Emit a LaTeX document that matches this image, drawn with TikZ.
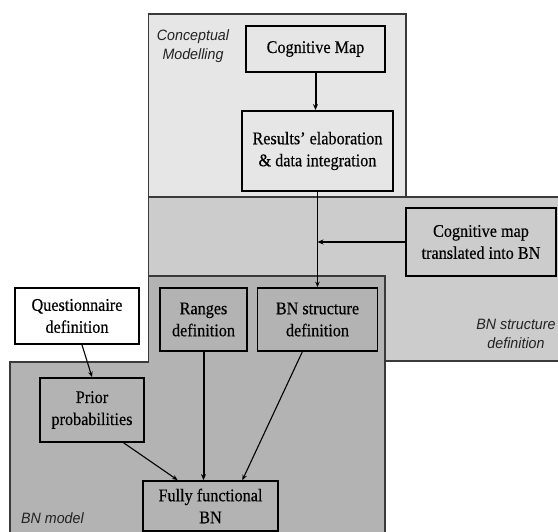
\documentclass[tikz,border=0pt]{standalone}
\usepackage{fontspec}
\setmainfont{Liberation Serif}[FakeStretch=0.91,FakeBold=0.4]
\newfontfamily\labfont{Liberation Sans}[FakeStretch=0.95]
\usetikzlibrary{arrows.meta,calc}
\definecolor{cmfill}{HTML}{E6E6E6}
\definecolor{bsfill}{HTML}{CCCCCC}
\definecolor{bmfill}{HTML}{B3B3B3}
\definecolor{panelline}{HTML}{3A3A3A}
\definecolor{labtext}{HTML}{222222}
\begin{document}
\begin{tikzpicture}[x=1pt,y=-1pt,
  box/.style={draw=black, line width=1.8pt, align=center, inner sep=0pt, font=\fontsize{17.8}{22}\selectfont},
  panel/.style={draw=panelline, line width=1.1pt},
  plabel/.style={font=\labfont\itshape\fontsize{15}{19}\selectfont, align=center, text=labtext, inner sep=0pt},
  thickarr/.style={line width=2pt, -{Stealth[length=6pt,width=5pt]}},
  medarr/.style={line width=1.6pt, -{Stealth[length=6pt,width=5pt]}},
  thinarr/.style={line width=1.1pt, -{Stealth[length=5.5pt,width=4.5pt]}}]
\useasboundingbox (0,0) rectangle (558,532);
\clip (0,0) rectangle (558,532);
% panels
\path[panel, fill=bsfill] (148.5,197) rectangle (562,361);
\path[panel, fill=cmfill] (148.5,14) rectangle (406,197);
\path[panel, fill=bmfill] (10,536) -- (10,362) -- (148.5,362) -- (148.5,276) -- (385,276) -- (385,536) -- cycle;
% nodes
\node[box, fill=cmfill, minimum width=139pt, minimum height=46pt] (cm) at (315.5,49) {Cognitive Map};
\node[box, fill=cmfill, minimum width=151pt, minimum height=80pt] (res) at (317.5,151) {Results’ elaboration\\ \& data integration};
\node[box, fill=bsfill, minimum width=150pt, minimum height=68pt] (ct) at (481,242) {Cognitive map\\translated into BN};
\node[box, fill=white, minimum width=124pt, minimum height=56pt] (qd) at (77,316) {Questionnaire\\definition};
\node[box, fill=bmfill, minimum width=87pt, minimum height=63pt] (rd) at (203.5,319.5) {Ranges\\definition};
\node[box, fill=bmfill, minimum width=120pt, minimum height=63pt] (bs) at (317.5,319.5) {BN structure\\definition};
\node[box, fill=bmfill, minimum width=104pt, minimum height=64pt] (pp) at (92,410) {Prior\\probabilities};
\node[box, fill=bmfill, minimum width=135pt, minimum height=50pt] (fb) at (210.5,506) {Fully functional\\BN};
% panel labels
\node[plabel] (lcm) at (193,46) {Conceptual\\Modelling};
\node[plabel] (lbs) at (516,334) {BN structure\\definition};
\node[plabel, anchor=west] (lbm) at (21,518) {BN model};
% connectors
\draw[thickarr] (cm.south) -- (cm.south |- res.north);
\draw[thinarr] (res.south) -- (res.south |- bs.north);
\coordinate (j) at (res.south |- ct.west);
\draw[medarr] (ct.west) -- (j);
\draw[thickarr] (rd.south) -- (rd.south |- fb.north);
\draw[thinarr] ($(pp.south)!0.6!(pp.south east)$) -- ($(fb.north west)!0.26!(fb.north east)$);
\draw[thinarr] ($(bs.south west)!0.375!(bs.south east)$) -- ($(fb.north west)!0.733!(fb.north east)$);
\draw[thinarr] ($(qd.south)+(5,0)$) -- (pp.north);
\end{tikzpicture}
\end{document}
